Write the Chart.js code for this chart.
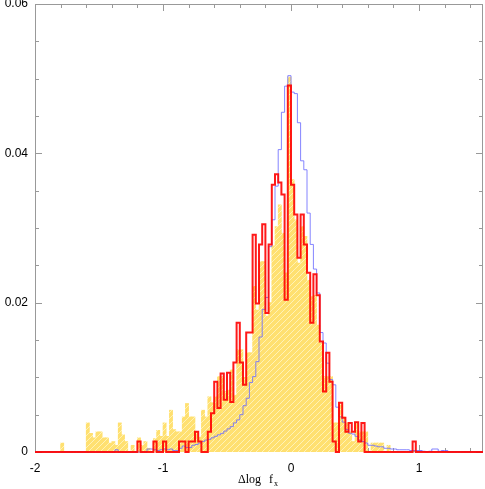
<!DOCTYPE html>
<html>
<head>
<meta charset="utf-8">
<script src="https://cdn.jsdelivr.net/npm/chart.js@4/dist/chart.umd.min.js"></script>
<style>
  html, body { margin: 0; padding: 0; background: #fff; }
  #wrap { width: 485px; height: 489px; }
</style>
</head>
<body>
<div id="wrap"><canvas id="c" width="485" height="489"></canvas></div>
<script>
// histogram bins: 0.025 wide, from -2 to 1.5 (140 bins)
const binStart = -2;
const binWidth = 0.025;

// filled yellow histogram
const yellowVals = [
  0, 0, 0, 0, 0, 0, 0, 0, 0.0012, 0,
  0, 0, 0, 0, 0, 0, 0.0039, 0.0025, 0.0019, 0.0027,
  0.0027, 0.0019, 0.0019, 0.0012, 0.0014, 0.0009, 0.0039, 0.0023, 0.0014, 0,
  0.0009, 0, 0.0019, 0.0009, 0.0014, 0.0005, 0, 0.0018, 0.0029, 0.0021,
  0.0039, 0.0021, 0.0056, 0.0030, 0.0027, 0.0027, 0.0047, 0.0065, 0.0047, 0.0047,
  0.0027, 0.0020, 0.0056, 0.0047, 0.0074, 0.0066, 0.0074, 0.0101, 0.0101, 0.0081,
  0.0083, 0.0110, 0.0076, 0.0137, 0.0137, 0.0100, 0.0133, 0.0133, 0.0222, 0.0190,
  0.0255, 0.0255, 0.0182, 0.0200, 0.0276, 0.0302, 0.0331, 0.0293, 0.0240, 0.0502,
  0.0365, 0.0311, 0.0253, 0.0302, 0.0289, 0.0230, 0.0208, 0.0210, 0.0170, 0.0146,
  0.0101, 0.0101, 0.0101, 0.0039, 0.0039, 0.0063, 0.0047, 0.0039, 0.0027, 0.0014,
  0.0040, 0.0027, 0.0027, 0.0027, 0, 0.0012, 0.0012, 0.0012, 0.0012, 0,
  0.0009, 0, 0, 0, 0, 0, 0, 0, 0, 0,
  0, 0, 0, 0, 0, 0, 0, 0, 0, 0,
  0, 0, 0, 0, 0, 0, 0, 0, 0, 0
];

// thick red outline histogram
const redVals = [
  0, 0, 0, 0, 0, 0, 0, 0, 0, 0,
  0, 0, 0, 0, 0, 0, 0, 0, 0, 0,
  0, 0, 0, 0, 0, 0, 0, 0, 0, 0,
  0, 0, 0.0014, 0, 0, 0, 0, 0.0014, 0, 0,
  0.0014, 0, 0, 0, 0, 0.0014, 0.0014, 0, 0.0014, 0.0014,
  0.0027, 0.0014, 0, 0, 0.0027, 0.0052, 0.0094, 0.0059, 0.0105, 0.0070,
  0.0106, 0.0067, 0.0120, 0.0173, 0.0120, 0.0090, 0.0160, 0.0160, 0.0291, 0.0199,
  0.0278, 0.0305, 0.0186, 0.0278, 0.0358, 0.0372, 0.0361, 0.0345, 0.0204, 0.0491,
  0.0358, 0.0318, 0.0260, 0.0318, 0.0278, 0.0240, 0.0173, 0.0238, 0.0210, 0.0148,
  0.0081, 0.0133, 0.0094, 0.0014, 0, 0.0066, 0.0046, 0.0027, 0.0039, 0.0027,
  0.0040, 0.0014, 0.0039, 0, 0, 0, 0, 0, 0, 0,
  0, 0, 0, 0, 0, 0, 0, 0, 0.0014, 0,
  0, 0, 0, 0, 0, 0, 0, 0, 0, 0,
  0, 0, 0, 0, 0, 0, 0, 0, 0, 0
];

// thin blue outline histogram
const blueVals = [
  0, 0, 0, 0, 0, 0, 0, 0, 0, 0,
  0, 0, 0, 0, 0, 0, 0, 0, 0, 0,
  0, 0, 0, 0, 0, 0.0003, 0, 0, 0, 0,
  0, 0, 0, 0, 0, 0.0004, 0.0004, 0.0003, 0.0002, 0.0003,
  0.0004, 0.0003, 0.0004, 0.0002, 0.0002, 0.0005, 0.0008, 0.0006, 0.0006, 0.0009,
  0.0010, 0.0012, 0.0014, 0.0016, 0.0017, 0.0019, 0.0021, 0.0023, 0.0025, 0.0028,
  0.0031, 0.0034, 0.0039, 0.0043, 0.0050, 0.0062, 0.0072, 0.0093, 0.0101, 0.0121,
  0.0154, 0.0191, 0.0207, 0.0275, 0.0311, 0.0356, 0.0405, 0.0455, 0.0490, 0.0504,
  0.0482, 0.0480, 0.0441, 0.0390, 0.0378, 0.0320, 0.0278, 0.0245, 0.0213, 0.0160,
  0.0146, 0.0119, 0.0097, 0.0090, 0.0060, 0.0047, 0.0040, 0.0030, 0.0025, 0.0024,
  0.0021, 0.0016, 0.0014, 0.0012, 0.0009, 0.0009, 0.0008, 0.0007, 0.0007, 0.0005,
  0.0005, 0.0004, 0.0004, 0.0003, 0.0003, 0.0003, 0.0003, 0.0002, 0.0002, 0.0002,
  0.0002, 0.0001, 0, 0.0001, 0.0004, 0.0004, 0.0001, 0.0002, 0.0002, 0,
  0, 0, 0, 0, 0, 0, 0, 0, 0, 0
];

const xMin = -2, xMax = 1.5;
const yMin = 0, yMax = 0.06;
const xMajor = [-2, -1, 0, 1];
const yMajor = [0, 0.02, 0.04, 0.06];

// bars at bin centres
function barPoints(vals) {
  return vals.map((v, i) => ({ x: binStart + (i + 0.5) * binWidth, y: v }));
}

// step outline: one point per left edge + closing right edge
function stepPoints(vals) {
  const pts = vals.map((v, i) => ({ x: binStart + i * binWidth, y: v }));
  pts.push({ x: binStart + vals.length * binWidth, y: vals[vals.length - 1] });
  return pts;
}

// yellow fill with light diagonal hatching
function hatchPattern() {
  const c = document.createElement('canvas');
  c.width = 6; c.height = 6;
  const g = c.getContext('2d');
  g.fillStyle = '#ffe070';
  g.fillRect(0, 0, 6, 6);
  g.strokeStyle = 'rgba(255,244,190,0.9)';
  g.lineWidth = 1;
  g.beginPath();
  g.moveTo(0, 6); g.lineTo(6, 0);
  g.moveTo(-1, 1); g.lineTo(1, -1);
  g.moveTo(5, 7); g.lineTo(7, 5);
  g.stroke();
  return g.createPattern(c, 'repeat');
}

// frame box and inward ticks on all four sides
const frameTicks = {
  id: 'frameTicks',
  beforeDatasetsDraw(chart) {
    const { ctx, chartArea: a, scales: { x, y } } = chart;
    ctx.save();
    ctx.strokeStyle = '#999999';
    ctx.lineWidth = 1;
    ctx.strokeRect(a.left + 0.5, a.top + 0.5, a.right - a.left - 1, a.bottom - a.top - 1);
    ctx.beginPath();
    for (let k = 0; k <= 17; k++) {
      const v = xMin + k * 0.2;
      const px = Math.round(x.getPixelForValue(v)) + 0.5;
      const len = xMajor.some(m => Math.abs(m - v) < 1e-6) ? 7 : 4;
      ctx.moveTo(px, a.bottom); ctx.lineTo(px, a.bottom - len);
      ctx.moveTo(px, a.top); ctx.lineTo(px, a.top + len);
    }
    for (let k = 0; k <= 12; k++) {
      const v = yMin + k * 0.005;
      const py = Math.round(y.getPixelForValue(v)) + 0.5;
      const len = yMajor.some(m => Math.abs(m - v) < 1e-9) ? 7 : 4;
      ctx.moveTo(a.left, py); ctx.lineTo(a.left + len, py);
      ctx.moveTo(a.right, py); ctx.lineTo(a.right - len, py);
    }
    ctx.stroke();
    ctx.restore();
  },
  afterDraw(chart) {
    const { ctx } = chart;
    ctx.save();
    ctx.fillStyle = '#000';
    ctx.textBaseline = 'alphabetic';
    ctx.font = '12px "Liberation Serif", "DejaVu Serif", serif';
    ctx.fillText('\u0394log', 238, 483);
    ctx.fillText('f', 269, 483);
    ctx.font = '8px "Liberation Serif", "DejaVu Serif", serif';
    ctx.fillText('x', 274, 486);
    ctx.restore();
  }
};

new Chart(document.getElementById('c'), {
  type: 'bar',
  data: {
    datasets: [
      {
        type: 'line',
        label: 'red',
        data: stepPoints(redVals),
        stepped: true,
        borderColor: 'rgba(255,0,0,0.9)',
        borderWidth: 2,
        pointRadius: 0,
        fill: false,
        clip: false,
        order: 0
      },
      {
        type: 'line',
        label: 'blue',
        data: stepPoints(blueVals),
        stepped: true,
        borderColor: 'rgba(110,110,255,0.85)',
        borderWidth: 1,
        pointRadius: 0,
        fill: false,
        clip: false,
        order: 1
      },
      {
        type: 'bar',
        label: 'yellow',
        data: barPoints(yellowVals),
        backgroundColor: hatchPattern(),
        borderWidth: 0,
        barPercentage: 1,
        categoryPercentage: 1,
        grouped: false,
        order: 2
      }
    ]
  },
  options: {
    responsive: false,
    animation: false,
    events: [],
    layout: { padding: { top: 4, right: 2, left: 0, bottom: 0 } },
    plugins: { legend: { display: false }, tooltip: { enabled: false } },
    scales: {
      x: {
        type: 'linear',
        min: xMin,
        max: xMax,
        offset: false,
        grid: { display: false, drawTicks: false },
        border: { display: false },
        ticks: {
          stepSize: 1,
          includeBounds: false,
          padding: 9,
          color: '#000',
          font: { family: '"Liberation Sans", Arial, sans-serif', size: 12 },
          maxRotation: 0,
          callback: v => Number.isInteger(v) ? String(v) : ''
        },
        afterFit: s => { s.height = 37; s.paddingLeft = 0; s.paddingRight = 0; }
      },
      y: {
        min: yMin,
        max: yMax,
        grid: { display: false, drawTicks: false },
        border: { display: false },
        ticks: {
          stepSize: 0.02,
          padding: 7,
          color: '#000',
          font: { family: '"Liberation Sans", Arial, sans-serif', size: 12 },
          callback: v => v === 0 ? '0' : v.toFixed(2)
        },
        afterFit: s => { s.width = 35; s.paddingTop = 0; s.paddingBottom = 0; }
      }
    }
  },
  plugins: [frameTicks]
});
</script>
</body>
</html>
